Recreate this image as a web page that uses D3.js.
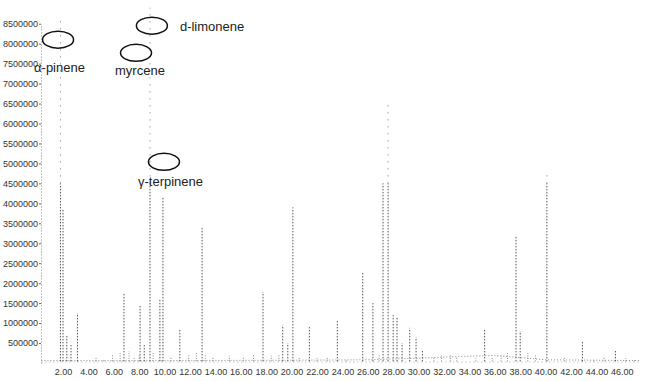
<!DOCTYPE html>
<html>
<head>
<meta charset="utf-8">
<script src="https://cdn.jsdelivr.net/npm/d3@7"></script>
<style>
  body { margin: 0; background: #fff; }
  svg { display: block; }
  text { font-family: "Liberation Sans", Arial, sans-serif; }
</style>
</head>
<body>
<svg id="chart"></svg>
<script>
// retention time (min) and abundance of the main peaks
const peakTimes   = [1.8, 2.0, 2.3, 2.63, 3.14, 6.8, 8.07, 8.4, 8.85, 9.63, 9.87, 11.2, 12.95,
                     17.75, 19.3, 19.7, 20.1, 21.4, 23.6, 25.6, 26.4, 27.2, 27.6, 28.0, 28.3, 28.7,
                     29.3, 29.8, 30.3, 35.2, 37.67, 38.0, 40.1, 42.9, 45.5];
const peakHeights = [8600000, 3850000, 700000, 450000, 1250000, 1750000, 1450000, 450000, 8900000, 1600000, 4150000, 830000, 3380000,
                     1780000, 950000, 500000, 3900000, 900000, 1050000, 2280000, 1500000, 4500000, 6470000, 1200000, 1150000, 500000,
                     880000, 650000, 300000, 830000, 3160000, 800000, 4760000, 550000, 300000];

// small bumps along the baseline
const minorTimes   = [4.6, 5.2, 5.9, 6.5, 7.2, 7.6, 8.0, 9.1, 10.5, 11.9, 12.5, 13.2, 13.8, 15.1, 16.2, 17.0, 18.4, 19.0,
                      20.6, 22.0, 22.8, 24.3, 26.9, 31.2, 31.8, 32.5, 33.0, 34.5, 35.8, 36.5, 37.0, 38.6, 39.2, 41.5, 43.8, 44.6, 46.3, 47.0];
const minorHeights = [150000, 100000, 200000, 250000, 300000, 150000, 200000, 250000, 150000, 200000, 280000, 220000, 150000, 180000, 150000, 200000, 180000, 200000,
                      150000, 120000, 150000, 100000, 200000, 150000, 180000, 200000, 150000, 120000, 150000, 180000, 250000, 250000, 200000, 150000, 100000, 150000, 120000, 100000];

// baseline drift
const baselineTimes  = [0.3, 10, 20, 26, 30, 33, 36, 37.5, 40, 44, 47.5];
const baselineValues = [60000, 60000, 70000, 80000, 120000, 160000, 190000, 150000, 80000, 70000, 60000];

const yTickValues = [500000, 1000000, 1500000, 2000000, 2500000, 3000000, 3500000, 4000000,
                     4500000, 5000000, 5500000, 6000000, 6500000, 7000000, 7500000, 8000000, 8500000];
const xTickValues = [2, 4, 6, 8, 10, 12, 14, 16, 18, 20, 22, 24, 26, 28, 30, 32, 34, 36, 38, 40, 42, 44, 46];

// peak annotations (time, abundance of the circle centre)
const labels = [
  {text: "\u03b1-pinene",   t: 1.61, v: 8100000, dx: -24, dy: 32},
  {text: "myrcene",         t: 7.75, v: 7770000, dx: -21, dy: 22},
  {text: "d-limonene",      t: 9.0,  v: 8450000, dx: 28,  dy: 5},
  {text: "\u03b3-terpinene", t: 9.95, v: 5040000, dx: -26, dy: 24}
];

const W = 646, H = 381;
const svg = d3.select("#chart").attr("width", W).attr("height", H);
svg.append("rect").attr("width", W).attr("height", H).attr("fill", "#fff");

let x = d3.scaleLinear().domain([0, 48]).range([37.6, 647.2]);
let y = d3.scaleLinear().domain([0, 8500000]).range([363, 23.7]);

// y axis
let yAxis = svg.append("g")
    .attr("transform", "translate(41,0)")
    .call(d3.axisLeft(y).tickValues(yTickValues).tickFormat(d3.format("d")).tickSize(2).tickSizeOuter(0).tickPadding(1));
yAxis.select(".domain").attr("stroke", "#888").attr("stroke-dasharray", "1,2");
yAxis.selectAll(".tick line").attr("stroke", "#666");
yAxis.selectAll("text").attr("font-size", 9).attr("fill", "#333");

// x axis (labels only)
let xAxis = svg.append("g")
    .attr("transform", "translate(0,366)")
    .call(d3.axisBottom(x).tickValues(xTickValues).tickFormat(d3.format(".2f")).tickSize(0).tickPadding(3));
xAxis.select(".domain").remove();
xAxis.selectAll("text").attr("font-size", 9).attr("fill", "#333");

// baseline
let line = d3.line()
    .x(d => x(d[0]))
    .y(d => y(d[1]));
svg.append("path")
    .datum(d3.zip(baselineTimes, baselineValues))
    .attr("fill", "none")
    .attr("stroke", "#888")
    .attr("stroke-dasharray", "1,2")
    .attr("d", line);
svg.append("line")
    .attr("x1", x(0.3)).attr("x2", x(47.5))
    .attr("y1", y(0) - 1).attr("y2", y(0) - 1)
    .attr("stroke", "#aaa")
    .attr("stroke-dasharray", "1,3");

// minor bumps
svg.selectAll(".minor")
    .data(d3.zip(minorTimes, minorHeights))
  .enter().append("line")
    .attr("class", "minor")
    .attr("x1", d => x(d[0])).attr("x2", d => x(d[0]))
    .attr("y1", y(40000)).attr("y2", d => y(d[1]))
    .attr("stroke", "#888")
    .attr("stroke-dasharray", "1,1.5");

// main peaks: dotted lower part, faint sparse dots above 4.5M (as on the scan)
const cut = 4500000;
let peaks = d3.zip(peakTimes, peakHeights);
svg.selectAll(".peak")
    .data(peaks)
  .enter().append("line")
    .attr("class", "peak")
    .attr("x1", d => x(d[0])).attr("x2", d => x(d[0]))
    .attr("y1", y(40000)).attr("y2", d => y(Math.min(d[1], cut)))
    .attr("stroke", "#555")
    .attr("stroke-width", 1)
    .attr("stroke-dasharray", "1.5,1.5");
svg.selectAll(".peakTop")
    .data(peaks.filter(d => d[1] > cut))
  .enter().append("line")
    .attr("class", "peakTop")
    .attr("x1", d => x(d[0])).attr("x2", d => x(d[0]))
    .attr("y1", y(cut)).attr("y2", d => y(d[1]))
    .attr("stroke", "#777")
    .attr("stroke-width", 1)
    .attr("stroke-dasharray", "1,6");

// annotations
let ann = svg.selectAll(".ann")
    .data(labels)
  .enter().append("g")
    .attr("class", "ann")
    .attr("transform", d => "translate(" + x(d.t) + "," + y(d.v) + ")");
ann.append("ellipse")
    .attr("rx", 15.5).attr("ry", 8.5)
    .attr("fill", "none")
    .attr("stroke", "#111")
    .attr("stroke-width", 1.5);
ann.append("text")
    .attr("x", d => d.dx).attr("y", d => d.dy)
    .attr("font-size", 13)
    .attr("fill", "#222")
    .text(d => d.text);
</script>
</body>
</html>
